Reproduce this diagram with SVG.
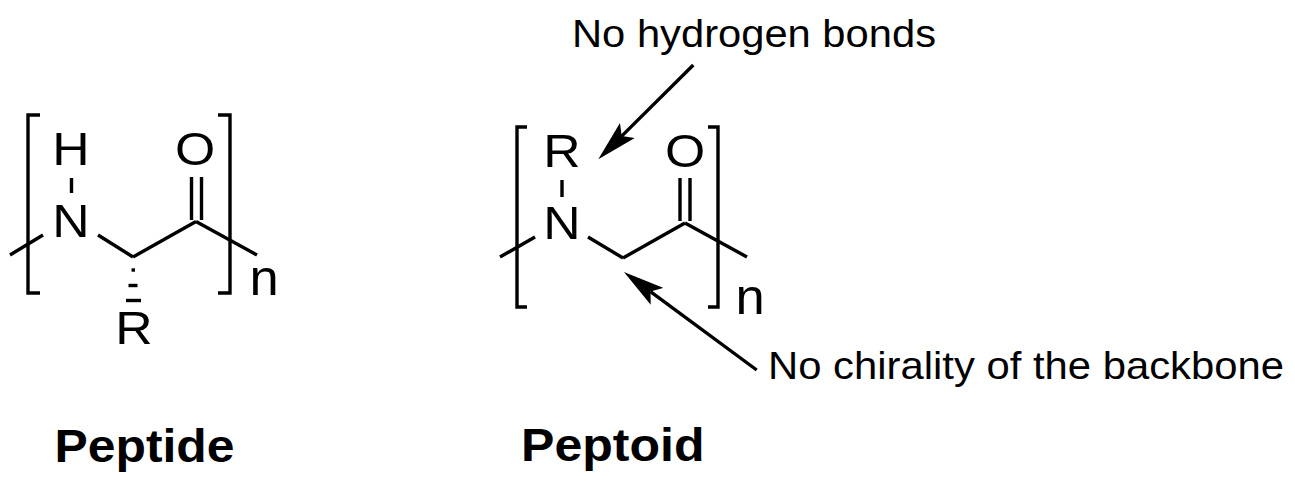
<svg xmlns="http://www.w3.org/2000/svg" width="1295" height="487" viewBox="0 0 1295 487">
  <style>
    .bond { stroke:#000; stroke-width:3.4; fill:none; stroke-linecap:butt; stroke-linejoin:miter; }
    .atom { font-family:"Liberation Sans", Arial, sans-serif; font-size:47px; text-anchor:middle; fill:#000; }
    .idx { font-family:"Liberation Sans", Arial, sans-serif; font-size:50px; text-anchor:middle; fill:#000; }
    .note { font-family:"Liberation Sans", Arial, sans-serif; font-size:39px; fill:#000; }
    .title { font-family:"Liberation Sans", Arial, sans-serif; font-size:46px; font-weight:bold; fill:#000; }
    .arrow { stroke:#000; stroke-width:3.4; fill:none; marker-end:url(#head); }
  </style>
  <defs>
    <marker id="head" markerUnits="userSpaceOnUse" viewBox="0 -11 42 22" markerWidth="42" markerHeight="22" refX="8" refY="0" orient="auto">
      <path d="M0,-10.5 L41,0 L0,10.5 L8,0 Z" fill="#000"/>
    </marker>
  </defs>
  <rect width="1295" height="487" fill="#fff"/>

  <g id="peptide">
    <polyline class="bond" points="40,115 28,115 28,293 40,293"/>
    <polyline class="bond" points="218,115 230,115 230,293 218,293"/>
    <line class="bond" x1="10" y1="255" x2="43" y2="235"/>
    <line class="bond" x1="98" y1="235" x2="133" y2="257"/>
    <line class="bond" x1="133" y1="257" x2="196" y2="221.5"/>
    <line class="bond" x1="196" y1="221.5" x2="257" y2="255"/>
    <line class="bond" x1="191.5" y1="177" x2="191.5" y2="220"/>
    <line class="bond" x1="201.5" y1="177" x2="201.5" y2="220"/>
    <line class="bond" x1="71.5" y1="178" x2="71.5" y2="193"/>
    <line class="bond" x1="131.5" y1="270" x2="135" y2="270"/>
    <line class="bond" x1="128.5" y1="285.5" x2="137.5" y2="285.5"/>
    <line class="bond" x1="126" y1="300.5" x2="141" y2="300.5"/>
    <text class="atom" transform="translate(71,165) scale(1.1,1)">H</text>
    <text class="atom" transform="translate(71,237) scale(1.1,1)">N</text>
    <text class="atom" transform="translate(195,165) scale(1.1,1)">O</text>
    <text class="atom" transform="translate(134,344) scale(1.1,1)">R</text>
    <text class="idx" transform="translate(264,295) scale(1.05,1)">n</text>
  </g>

  <g id="peptide-title">
    <text class="title" x="54.5" y="462" textLength="180" lengthAdjust="spacingAndGlyphs">Peptide</text>
  </g>

  <g id="peptoid">
    <polyline class="bond" points="527,127 517,127 517,307 527,307"/>
    <polyline class="bond" points="708,127 718,127 718,307 708,307"/>
    <line class="bond" x1="500" y1="257" x2="535" y2="237"/>
    <line class="bond" x1="588" y1="237" x2="623" y2="258"/>
    <line class="bond" x1="623" y1="258" x2="685" y2="223"/>
    <line class="bond" x1="685" y1="223" x2="747" y2="257"/>
    <line class="bond" x1="680" y1="178" x2="680" y2="221"/>
    <line class="bond" x1="690" y1="178" x2="690" y2="221"/>
    <line class="bond" x1="562" y1="180" x2="562" y2="197"/>
    <text class="atom" transform="translate(562,167) scale(1.1,1)">R</text>
    <text class="atom" transform="translate(562,239) scale(1.1,1)">N</text>
    <text class="atom" transform="translate(685,167) scale(1.1,1)">O</text>
    <text class="idx" transform="translate(750,314) scale(1.05,1)">n</text>
  </g>

  <g id="peptoid-title">
    <text class="title" x="521" y="460.5" textLength="183.5" lengthAdjust="spacingAndGlyphs">Peptoid</text>
  </g>

  <g id="note-hbonds">
    <text class="note" x="572" y="47" textLength="364" lengthAdjust="spacingAndGlyphs">No hydrogen bonds</text>
  </g>

  <g id="note-chirality">
    <text class="note" x="768" y="379" textLength="516" lengthAdjust="spacingAndGlyphs">No chirality of the backbone</text>
  </g>

  <g id="connectors">
    <path class="arrow" d="M693.3,65 L621.7,136.1"/>
    <path class="arrow" d="M756.7,370 L650.5,291.6"/>
  </g>
</svg>
